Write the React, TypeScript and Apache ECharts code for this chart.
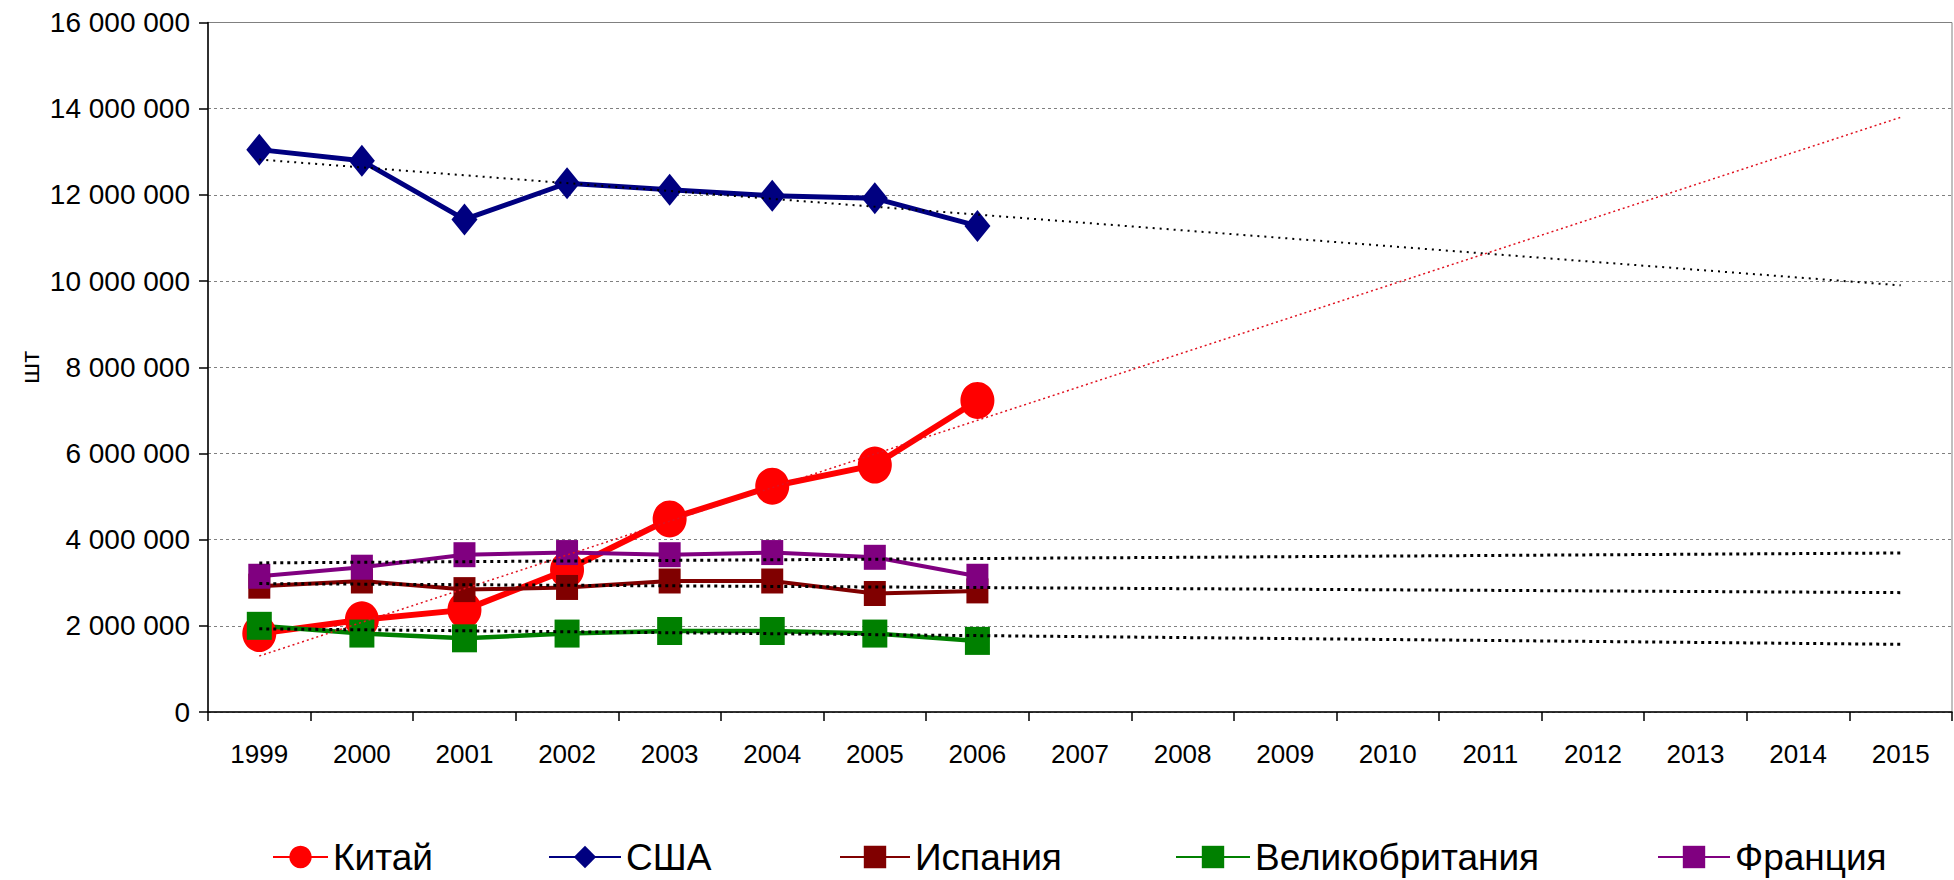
import React, { useEffect, useRef } from "react";
import * as echarts from "echarts";

const years = ["1999", "2000", "2001", "2002", "2003", "2004", "2005", "2006", "2007", "2008", "2009", "2010", "2011", "2012", "2013", "2014", "2015"];

const china = [1820000, 2140000, 2370000, 3300000, 4480000, 5240000, 5730000, 7230000];
const usa = [13050000, 12790000, 11430000, 12270000, 12120000, 11980000, 11920000, 11280000];
const spain = [2920000, 3040000, 2840000, 2890000, 3040000, 3040000, 2750000, 2810000];
const uk = [2000000, 1820000, 1710000, 1820000, 1880000, 1880000, 1820000, 1650000];
const france = [3150000, 3360000, 3650000, 3700000, 3650000, 3700000, 3590000, 3150000];

// trend line end points (1999 and 2015)
const chinaTrend = [1300000, 13800000];
const usaTrend = [12820000, 9900000];
const spainTrend = [2980000, 2770000];
const ukTrend = [1930000, 1570000];
const franceTrend = [3460000, 3690000];

const yTicks = [0, 2000000, 4000000, 6000000, 8000000, 10000000, 12000000, 14000000, 16000000];

const FONT = "'Liberation Sans', Arial, sans-serif";

function fmt(v: number) {
  return String(v).replace(/\B(?=(\d{3})+(?!\d))/g, " ");
}

function trendData(t: number[]) {
  return [[0, t[0]], [years.length - 1, t[1]]];
}

export default function App() {
  const ref = useRef<HTMLDivElement>(null);
  useEffect(() => {
    if (!ref.current) return;
    const chart = echarts.init(ref.current, undefined, { renderer: "svg" });
    const mainSeries = [
      { name: "Китай", data: china, color: "#ff0000", symbol: "circle", size: [34, 37], width: 6 },
      { name: "США", data: usa, color: "#000080", symbol: "diamond", size: [26, 32], width: 5 },
      { name: "Испания", data: spain, color: "#800000", symbol: "rect", size: [22, 25], width: 4 },
      { name: "Великобритания", data: uk, color: "#008000", symbol: "rect", size: [25, 28], width: 4.5 },
      { name: "Франция", data: france, color: "#800080", symbol: "rect", size: [22, 25], width: 4 },
    ];
    const trends = [
      { data: chinaTrend, color: "#e0101e", width: 1.5, type: [2, 3] },
      { data: usaTrend, color: "#000000", width: 2, type: [2, 5] },
      { data: spainTrend, color: "#000000", width: 3, type: [3, 4] },
      { data: ukTrend, color: "#000000", width: 3, type: [3, 4] },
      { data: franceTrend, color: "#000000", width: 3, type: [3, 4] },
    ];
    const legendLeft = [272, 548, 839, 1175, 1657];
    const legendItemWidth = [55, 72, 70, 74, 72];
    const series: any[] = [];
    mainSeries.forEach((s) => {
      series.push({
        type: "line",
        name: s.name,
        data: s.data,
        symbol: s.symbol,
        symbolSize: s.size,
        showAllSymbol: true,
        itemStyle: { color: s.color },
        lineStyle: { color: s.color, width: s.width },
        z: 3,
      });
    });
    trends.forEach((t) => {
      series.push({
        type: "line",
        data: trendData(t.data),
        symbol: "none",
        lineStyle: { color: t.color, width: t.width, type: t.type },
        z: 4,
        silent: true,
      });
    });
    chart.setOption({
      animation: false,
      backgroundColor: "#ffffff",
      grid: {
        left: 208,
        right: 2,
        top: 22.5,
        bottom: 168,
        show: true,
        borderColor: "#808080",
        borderWidth: 1,
      },
      legend: mainSeries.map((s, i) => ({
        data: [s.name],
        left: legendLeft[i],
        top: 838,
        padding: 0,
        itemWidth: legendItemWidth[i],
        itemHeight: 28,
        itemGap: 8,
        textStyle: { fontSize: 37, color: "#000", fontFamily: FONT, lineHeight: 38 },
        selectedMode: false,
      })),
      xAxis: {
        type: "category",
        data: years,
        boundaryGap: true,
        axisLine: { lineStyle: { color: "#000", width: 1.5 } },
        axisTick: { show: true, length: 9, lineStyle: { color: "#000", width: 1.5 } },
        axisLabel: { fontSize: 26, color: "#000", fontFamily: FONT, margin: 29, interval: 0 },
        splitLine: { show: false },
      },
      yAxis: {
        type: "value",
        min: 0,
        max: 16000000,
        interval: 2000000,
        name: "шт",
        nameLocation: "middle",
        nameRotate: 90,
        nameGap: 165,
        nameMoveOverlap: false,
        nameTextStyle: { fontSize: 26, color: "#000", fontFamily: FONT },
        axisLine: { show: true, lineStyle: { color: "#000", width: 1.5 } },
        axisTick: { show: true, length: 9, lineStyle: { color: "#000", width: 1.5 } },
        axisLabel: {
          fontSize: 28,
          color: "#000",
          fontFamily: FONT,
          margin: 18,
          formatter: (v: number) => (yTicks.indexOf(v) >= 0 ? fmt(v) : ""),
        },
        splitLine: { show: true, lineStyle: { color: "#808080", type: [3, 3], width: 1 } },
      },
      series,
    });
    return () => chart.dispose();
  }, []);
  return (
    <div
      ref={ref}
      style={{ position: "absolute", left: 0, top: 0, width: 1954, height: 880 }}
    />
  );
}
